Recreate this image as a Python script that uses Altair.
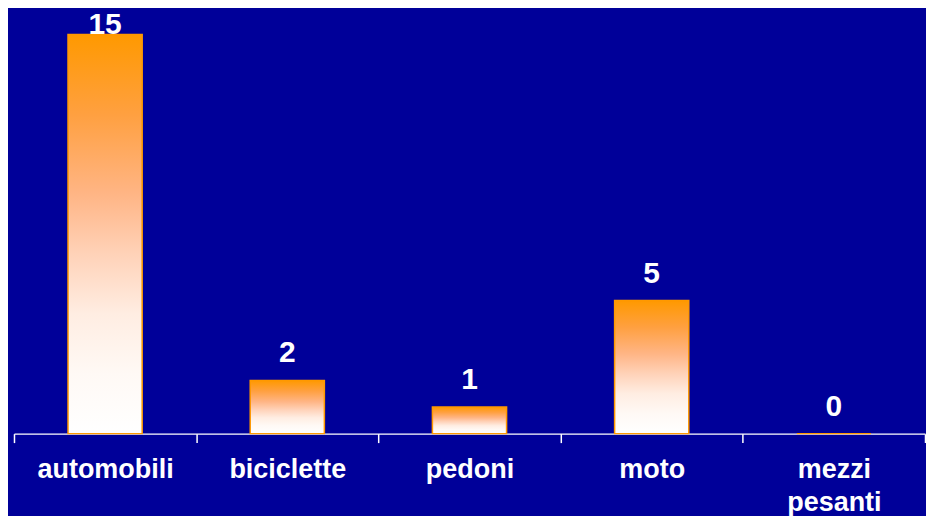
import altair as alt
import pandas as pd

categories = ["automobili", "biciclette", "pedoni", "moto", "mezzi pesanti"]
values = [15, 2, 1, 5, 0]

df = pd.DataFrame({"categoria": categories, "valore": values})

BG = "#000099"
ORANGE = "#FF9900"
FONT = "Liberation Sans"

x_scale = alt.Scale(paddingInner=0, paddingOuter=0)

x_enc = alt.X(
    "categoria:N",
    sort=categories,
    title=None,
    scale=x_scale,
    axis=alt.Axis(
        labelAngle=0,
        labelColor="white",
        labelFont=FONT,
        labelFontWeight="bold",
        labelFontSize=27,
        labelLineHeight=33,
        labelPadding=14,
        labelBaseline="top",
        labelExpr="split(datum.label, ' ')",
        domainColor="white",
        domainWidth=1.5,
        tickColor="white",
        tickWidth=1.5,
        tickSize=9,
        tickBand="extent",
        grid=False,
    ),
)

y_scale = alt.Scale(domain=[0, 15], nice=False)

bars = alt.Chart(df).mark_bar(
    width=alt.RelativeBandSize(0.407),
    stroke=ORANGE,
    strokeWidth=1.5,
    color=alt.Gradient(
        gradient="linear",
        stops=[
            alt.GradientStop(color="#FF9900", offset=0),
            alt.GradientStop(color="#FFA040", offset=0.2),
            alt.GradientStop(color="#FFB585", offset=0.4),
            alt.GradientStop(color="#FFD2B8", offset=0.55),
            alt.GradientStop(color="#FFEDE2", offset=0.7),
            alt.GradientStop(color="#FFF9F5", offset=0.85),
            alt.GradientStop(color="#FFFFFF", offset=1),
        ],
        x1=0, x2=0, y1=0, y2=1,
    ),
).encode(
    x=x_enc,
    y=alt.Y("valore:Q", scale=y_scale, axis=None),
)

labels = alt.Chart(df).transform_calculate(
    pos="min(datum.valore + 0.675, 15)"
).mark_text(
    color="white",
    font=FONT,
    fontWeight="bold",
    fontSize=30,
    baseline="alphabetic",
    align="center",
).encode(
    x=alt.X("categoria:N", sort=categories, title=None, scale=x_scale),
    y=alt.Y("pos:Q", scale=y_scale, axis=None),
    text=alt.Text("valore:Q"),
)

chart = (
    alt.layer(bars, labels)
    .properties(
        width=913,
        height=400,
        background=BG,
        padding={"left": 5, "top": 2, "right": 0, "bottom": 0},
    )
    .configure_view(stroke=None)
)

chart.save("out.html", embed_options={"renderer": "svg", "actions": False})
